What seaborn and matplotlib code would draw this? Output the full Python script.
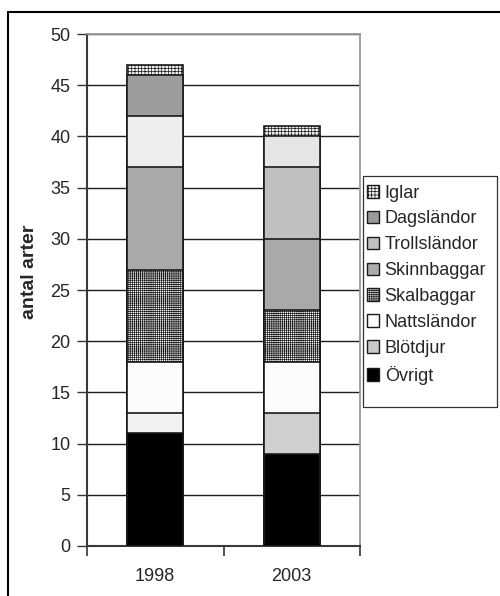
import matplotlib
matplotlib.use("Agg")
import matplotlib.pyplot as plt
from matplotlib.patches import Patch, Rectangle
from matplotlib.lines import Line2D
import seaborn as sns
import pandas as pd
import numpy as np

# Number of species per group, bottom of the stack first
years = ["1998", "2003"]
groups = ["Övrigt", "Blötdjur", "Nattsländor", "Skalbaggar",
          "Skinnbaggar", "Trollsländor", "Dagsländor", "Iglar"]
ovrigt = [11, 9]
blotdjur = [2, 4]
nattslandor = [5, 5]
skalbaggar = [9, 5]
skinnbaggar = [10, 7]
trollslandor = [5, 7]
dagslandor = [4, 3]
iglar = [1, 1]
y_ticks = list(range(0, 51, 5))

series = [ovrigt, blotdjur, nattslandor, skalbaggar,
          skinnbaggar, trollslandor, dagslandor, iglar]

# fill per group (1998, 2003), hatch per group (1998, 2003)
fills = {
    "Övrigt": ("#000000", "#000000"),
    "Blötdjur": ("#F2F2F2", "#CFCFCF"),
    "Nattsländor": ("#FBFBFB", "#FBFBFB"),
    "Skalbaggar": ("#FFFFFF", "#FFFFFF"),
    "Skinnbaggar": ("#A9A9A9", "#A9A9A9"),
    "Trollsländor": ("#EEEEEE", "#C0C0C0"),
    "Dagsländor": ("#9C9C9C", "#E6E6E6"),
    "Iglar": ("#F0F0F0", "#F0F0F0"),
}
hatches = {
    "Skalbaggar": ("++++++++", "++++++++"),
    "Iglar": ("+++++", "+++++"),
}
legend_fill = {
    "Övrigt": "#000000", "Blötdjur": "#C8C8C8", "Nattsländor": "#FBFBFB",
    "Skalbaggar": "#FFFFFF", "Skinnbaggar": "#ABABAB",
    "Trollsländor": "#C0C0C0", "Dagsländor": "#9A9A9A", "Iglar": "#F0F0F0",
}

sns.set_theme(style="white")
plt.rcParams["font.family"] = ["Liberation Sans", "DejaVu Sans"]
plt.rcParams["hatch.linewidth"] = 0.5
plt.rcParams["hatch.color"] = "#000000"

W, H = 500, 596
fig = plt.figure(figsize=(W / 100, H / 100), dpi=100)
ax = fig.add_axes([0.174, 0.0839, 0.546, 0.859])

cum = np.cumsum(np.array(series), axis=0)

# stacked bars: draw the tallest cumulative total first, then cover downward
for i in range(len(groups) - 1, -1, -1):
    name = groups[i]
    df = pd.DataFrame({"year": years, "value": cum[i]})
    n_before = len(ax.patches)
    sns.barplot(data=df, x="year", y="value", hue="year",
                palette=list(fills[name]), legend=False, width=0.41,
                edgecolor="#1a1a1a", linewidth=1.2, saturation=1,
                ax=ax, zorder=3)
    new = ax.patches[n_before:]
    for j, p in enumerate(new):
        h = hatches.get(name)
        if h is not None and h[j] is not None:
            p.set_hatch(h[j])

ax.set_ylim(0, 50)
ax.set_xlim(-0.5, 1.5)
ax.set_yticks(y_ticks)
ax.set_yticklabels([str(t) for t in y_ticks], fontsize=13)
ax.yaxis.grid(True, color="#1e1e1e", linewidth=1.0, zorder=0)
ax.set_axisbelow(True)

ax.set_xticks([-0.5, 0.5, 1.5], minor=False)
ax.set_xticklabels([])
ax.set_xticks([0, 1], minor=True)
ax.set_xticklabels(years, minor=True, fontsize=13)
ax.tick_params(axis="x", which="minor", length=0, pad=16)
ax.tick_params(axis="x", which="major", direction="out", length=7,
               width=1.2, color="#333333", bottom=True)
ax.tick_params(axis="y", direction="out", length=7, width=1.0,
               color="#333333", left=True, pad=5)
ax.set_xlabel("")
ax.set_ylabel("")

for side in ["left", "bottom"]:
    ax.spines[side].set_color("#3a3a3a")
    ax.spines[side].set_linewidth(1.5)
for side in ["top", "right"]:
    ax.spines[side].set_color("#999999")
    ax.spines[side].set_linewidth(1.3)
    ax.spines[side].set_visible(True)

fig.text(30 / W, 1 - 272 / H, "antal arter", rotation=90,
         ha="center", va="center", fontsize=14, fontweight="bold")

# legend box
fig.add_artist(Rectangle((363 / W, 1 - 407 / H), 134 / W, 231 / H,
                         transform=fig.transFigure, facecolor="white",
                         edgecolor="#333333", linewidth=0.9, zorder=4))

# legend entries, top entry first
handles = []
for name in reversed(groups):
    hp = None
    if name in ("Skalbaggar",):
        hp = "++++++++"
    elif name == "Iglar":
        hp = "+++++"
    handles.append(Patch(facecolor=legend_fill[name], edgecolor="#1a1a1a",
                         linewidth=1.0, hatch=hp, label=name))
leg = fig.legend(handles=handles, loc="upper left",
                 bbox_to_anchor=(363 / W, 1 - 181 / H),
                 bbox_transform=fig.transFigure, fontsize=13,
                 frameon=False, handlelength=0.7, handleheight=0.7,
                 handletextpad=0.3, labelspacing=0.49, borderpad=0.2,
                 borderaxespad=0)
leg.set_zorder(5)

# outer chart frame: left and top edges
fig.add_artist(Line2D([8 / W, 8 / W], [0, 1 - 12 / H],
                      transform=fig.transFigure, color="black", linewidth=1.5))
fig.add_artist(Line2D([8 / W, 1], [1 - 12 / H, 1 - 12 / H],
                      transform=fig.transFigure, color="black", linewidth=1.5))

fig.savefig("out.png", dpi=100)
